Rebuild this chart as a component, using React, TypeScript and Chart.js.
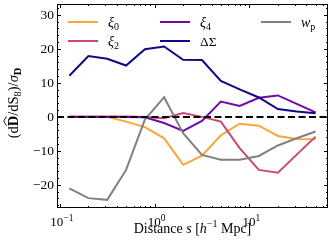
import React, { useEffect, useRef } from "react";
import { Chart, registerables } from "chart.js";
Chart.register(...registerables);

// ---- data ----
const S_VALUES = [0.126, 0.2, 0.316, 0.5, 0.79, 1.26, 2, 3.16, 5, 7.9, 12.6, 20, 31.6, 50];
const XI0 = [0, 0, 0, -1.4, -3.0, -6.3, -14.1, -11.4, -5.4, -2.0, -2.6, -5.6, -6.5, -6.6];
const XI2 = [0.1, 0.1, 0.1, 0.1, 0, -0.4, 1.1, 0, -1.4, -9.2, -15.6, -16.4, -11.1, -5.8];
const XI4 = [0, 0, 0, 0, -0.1, -1.8, -4.1, -1.2, 4.5, 3.2, 5.6, 6.3, 3.8, 1.3];
const DSIGMA = [12.1, 17.9, 17.1, 15.1, 19.9, 20.7, 16.8, 16.7, 10.6, 8.1, 5.7, 2.3, 1.6, 1.1];
const WP = [-21.0, -23.9, -24.4, -15.6, -0.8, 5.8, -4.8, -11.2, -12.6, -12.6, -11.5, -8.4, -6.3, -4.3];

const X_MAJOR = [0.1, 1, 10];
const X_MAJOR_LABELS = [["10", "−1"], ["10", "0"], ["10", "1"]];
const Y_MAJOR = [-20, -10, 0, 10, 20, 30];
const Y_MAJOR_LABELS = ["−20", "−10", "0", "10", "20", "30"];
const Y_MINOR_STEP = 2;

const COLORS = {
  xi0: "#fca53a",
  xi2: "#cc4778",
  xi4: "#7209a8",
  ds: "#0d0a82",
  wp: "#808080",
};

const SERIF = '"Liberation Serif", "DejaVu Serif", serif';
const F = (size: number, style = "") => `${style} ${size}px ${SERIF}`.trim();

type Seg = { t: string; f: string; dy?: number; hat?: boolean };

function segWidth(ctx: CanvasRenderingContext2D, segs: Seg[]) {
  let w = 0;
  for (const s of segs) {
    ctx.font = s.f;
    w += ctx.measureText(s.t).width;
  }
  return w;
}

function drawSegs(ctx: CanvasRenderingContext2D, segs: Seg[], x: number, y: number, align: "left" | "center" | "right") {
  const w = segWidth(ctx, segs);
  let cx = align === "left" ? x : align === "center" ? x - w / 2 : x - w;
  ctx.textAlign = "left";
  ctx.textBaseline = "alphabetic";
  for (const s of segs) {
    ctx.font = s.f;
    const sw = ctx.measureText(s.t).width;
    ctx.fillText(s.t, cx, y + (s.dy || 0));
    if (s.hat) {
      const top = y - 11.5;
      ctx.beginPath();
      ctx.lineWidth = 0.9;
      ctx.moveTo(cx + sw * 0.05, top);
      ctx.lineTo(cx + sw * 0.5, top - 2.8);
      ctx.lineTo(cx + sw * 0.95, top);
      ctx.stroke();
    }
    cx += sw;
  }
}

const decorPlugin = {
  id: "decor",
  afterDatasetsDraw(chart: any) {
    const { ctx, chartArea: a, scales } = chart;
    const y0 = scales.y.getPixelForValue(0);
    ctx.save();
    ctx.strokeStyle = "#000";
    ctx.lineWidth = 2;
    ctx.setLineDash([7, 3.5]);
    ctx.beginPath();
    ctx.moveTo(a.left, y0);
    ctx.lineTo(a.right, y0);
    ctx.stroke();
    ctx.restore();
  },
  afterDraw(chart: any) {
    const { ctx, chartArea: a, scales } = chart;
    const xs = scales.x, ys = scales.y;
    ctx.save();
    ctx.fillStyle = "#000";
    ctx.strokeStyle = "#000";
    // frame
    ctx.lineWidth = 1;
    ctx.strokeRect(a.left + 0.5, a.top + 0.5, a.right - a.left - 1, a.bottom - a.top - 1);
    const tick = (x1: number, y1: number, x2: number, y2: number) => {
      ctx.beginPath();
      ctx.moveTo(x1, y1);
      ctx.lineTo(x2, y2);
      ctx.stroke();
    };
    const xmin = xs.min, xmax = xs.max;
    for (let e = -2; e <= 2; e++) {
      for (let k = 1; k <= 9; k++) {
        const v = k * Math.pow(10, e);
        if (v < xmin || v > xmax) continue;
        const px = Math.round(xs.getPixelForValue(v)) + 0.5;
        const len = k === 1 ? 4 : 2;
        tick(px, a.bottom, px, a.bottom - len);
        tick(px, a.top, px, a.top + len);
      }
    }
    for (let v = Math.ceil(ys.min / Y_MINOR_STEP) * Y_MINOR_STEP; v <= ys.max; v += Y_MINOR_STEP) {
      const py = Math.round(ys.getPixelForValue(v)) + 0.5;
      const len = Y_MAJOR.includes(v) ? 4 : 2;
      tick(a.left, py, a.left + len, py);
      tick(a.right, py, a.right - len, py);
    }
    // x tick labels
    X_MAJOR.forEach((v, i) => {
      const px = xs.getPixelForValue(v);
      const [b, sup] = X_MAJOR_LABELS[i];
      drawSegs(ctx, [
        { t: b, f: F(13) },
        { t: sup, f: F(9.5), dy: -5.5 },
      ], px + 2, a.bottom + 18, "center");
    });
    // y tick labels
    Y_MAJOR.forEach((v, i) => {
      const py = ys.getPixelForValue(v);
      drawSegs(ctx, [{ t: Y_MAJOR_LABELS[i], f: F(13.5) }], a.left - 3, py + 4.5, "right");
    });
    // x title
    drawSegs(ctx, [
      { t: "Distance ", f: F(14) },
      { t: "s", f: F(14, "italic") },
      { t: " [", f: F(14) },
      { t: "h", f: F(14, "italic") },
      { t: "−1", f: F(10), dy: -6 },
      { t: " Mpc]", f: F(14) },
    ], (a.left + a.right) / 2, 233, "center");
    // y title
    ctx.save();
    ctx.translate(18, (a.top + a.bottom) / 2 - 3);
    ctx.rotate(-Math.PI / 2);
    drawSegs(ctx, [
      { t: "(d", f: F(14.5) },
      { t: "D", f: F(14.5, "bold"), hat: true },
      { t: "/d", f: F(14.5) },
      { t: "S", f: F(14.5) },
      { t: "8", f: F(10.5), dy: 3 },
      { t: ")/", f: F(14.5) },
      { t: "σ", f: F(14.5, "italic") },
      { t: "D", f: F(10.5, "bold"), dy: 3 },
    ], 0, 0, "center");
    ctx.restore();
    // legend
    const items: { c: string; segs: Seg[]; col: number; row: number }[] = [
      { c: COLORS.xi0, segs: [{ t: "ξ", f: F(14, "italic") }, { t: "0", f: F(10), dy: 3 }], col: 0, row: 0 },
      { c: COLORS.xi2, segs: [{ t: "ξ", f: F(14, "italic") }, { t: "2", f: F(10), dy: 3 }], col: 0, row: 1 },
      { c: COLORS.xi4, segs: [{ t: "ξ", f: F(14, "italic") }, { t: "4", f: F(10), dy: 3 }], col: 1, row: 0 },
      { c: COLORS.ds, segs: [{ t: "ΔΣ", f: F(13.5) }], col: 1, row: 1 },
      { c: COLORS.wp, segs: [{ t: "w", f: F(14, "italic") }, { t: "p", f: F(10), dy: 3 }], col: 2, row: 0 },
    ];
    const colX = [a.left + 11, a.left + 103, a.left + 204];
    for (const it of items) {
      const lx = colX[it.col];
      const ly = a.top + 18 + it.row * 19;
      ctx.strokeStyle = it.c;
      ctx.lineWidth = 2;
      ctx.setLineDash([]);
      ctx.beginPath();
      ctx.moveTo(lx, ly);
      ctx.lineTo(lx + 30, ly);
      ctx.stroke();
      ctx.fillStyle = "#000";
      ctx.strokeStyle = "#000";
      drawSegs(ctx, it.segs, lx + 40, ly + 4.5, "left");
    }
    ctx.restore();
  },
};

const mk = (label: string, vals: number[], color: string) => ({
  label,
  data: S_VALUES.map((s, i) => ({ x: s, y: vals[i] })),
  borderColor: color,
  backgroundColor: color,
  borderWidth: 2,
  pointRadius: 0,
  tension: 0,
  fill: false,
});

export default function App() {
  const ref = useRef<HTMLCanvasElement | null>(null);
  useEffect(() => {
    if (!ref.current) return;
    const chart = new Chart(ref.current, {
      type: "line",
      data: {
        datasets: [
          mk("wp", WP, COLORS.wp),
          mk("ΔΣ", DSIGMA, COLORS.ds),
          mk("ξ4", XI4, COLORS.xi4),
          mk("ξ2", XI2, COLORS.xi2),
          mk("ξ0", XI0, COLORS.xi0),
        ],
      },
      options: {
        animation: false,
        responsive: false,
        events: [],
        layout: { padding: { left: 57, right: 5, top: 4, bottom: 42 } },
        scales: {
          x: { type: "logarithmic", min: 0.0933, max: 67.6, display: false },
          y: { type: "linear", min: -26.8, max: 33.2, display: false },
        },
        plugins: { legend: { display: false }, tooltip: { enabled: false } },
      },
      plugins: [decorPlugin],
    } as any);
    return () => chart.destroy();
  }, []);
  return (
    <div style={{ position: "fixed", left: 0, top: 0, width: 333, height: 250, background: "#fff" }}>
      <canvas ref={ref} width={333} height={250} style={{ display: "block", width: 333, height: 250 }} />
    </div>
  );
}
